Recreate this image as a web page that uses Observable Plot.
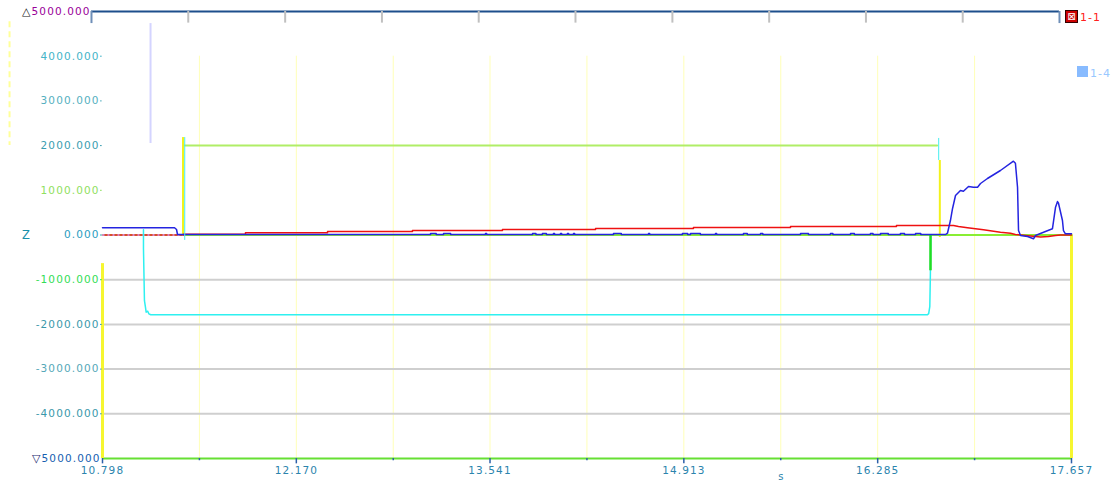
<!DOCTYPE html>
<html><head><meta charset="utf-8">
<script src="https://cdn.jsdelivr.net/npm/d3@7"></script>
<script src="https://cdn.jsdelivr.net/npm/@observablehq/plot@0.6"></script>
<style>
body{margin:0;background:#fff;}
#wrap{position:relative;width:1115px;height:483px;}
#wrap svg{font-family:"DejaVu Sans";letter-spacing:1.1px;}
.leg{position:absolute;font:11px "DejaVu Sans";letter-spacing:1px;line-height:13px;}
</style></head><body><div id="wrap"></div>
<script>
// ---- axes / ticks ----
const xTicks = [10.798, 12.170, 13.541, 14.913, 16.285, 17.657];
const xMinor = [11.484, 12.856, 14.227, 15.599, 16.971];
const yTicks = [5000, 4000, 3000, 2000, 1000, 0, -1000, -2000, -3000, -4000, -5000];
const yLabels = ["5000.000","4000.000","3000.000","2000.000","1000.000","0.000","-1000.000","-2000.000","-3000.000","-4000.000","5000.000"];
const yLabelColors = ["#990099","#44b4c8","#55b0c0","#3a9db0","#8fe060","#2a9cc0","#33dd55","#3a98aa","#55a8b8","#3a98aa","#1560b0"];
const hGrid = [-1000, -2000, -3000, -4000];
const topTicks = [10.720, 11.405, 12.091, 12.776, 13.461, 14.146, 14.832, 15.517, 16.202, 16.887, 17.572];

// ---- series: blue (1-1) ----
const blueStartT = [10.798, 11.308, 11.322, 11.329, 11.371];
const blueStartV = [161, 161, 123, 11, 10];
const blipT0 = [13.120, 13.212, 13.509, 13.842, 13.912, 13.990, 14.040, 14.089, 14.132, 14.415, 14.663, 14.903, 14.960, 15.137, 15.335, 15.456, 15.739, 15.951, 16.093, 16.234, 16.305, 16.446, 16.553];
const blipT1 = [13.160, 13.262, 13.517, 13.866, 13.940, 13.998, 14.048, 14.097, 14.140, 14.470, 14.671, 14.940, 15.030, 15.145, 15.362, 15.472, 15.795, 15.968, 16.120, 16.252, 16.360, 16.475, 16.590];
const blipBase = 10, blipTop = 36;
const blueEndT = [16.765, 16.779, 16.800, 16.815, 16.836, 16.871, 16.892, 16.928, 16.963, 16.992, 17.013, 17.062, 17.154, 17.246, 17.260, 17.275, 17.282, 17.296, 17.346, 17.388, 17.402, 17.459, 17.522, 17.544, 17.558, 17.565, 17.593, 17.600, 17.614, 17.657];
const blueEndV = [10, 40, 324, 593, 884, 996, 980, 1085, 1069, 1069, 1152, 1264, 1443, 1651, 1606, 1069, 100, -11, -34, -85, -11, 63, 139, 622, 749, 711, 324, 100, 27, 27];

// ---- series: red ----
const preT = [10.798, 11.371];
const preV = [0, 0];
const redT = [11.371, 11.371, 11.810, 11.810, 12.391, 12.391, 12.992, 12.992, 13.629, 13.629, 14.288, 14.288, 14.981, 14.981, 15.668, 15.668, 16.418, 16.418, 16.822, 16.857, 16.921, 17.034, 17.154, 17.225, 17.260, 17.331, 17.438, 17.494, 17.544, 17.579, 17.657];
const redV = [0, 18, 18, 49, 49, 78, 78, 100, 100, 123, 123, 145, 145, 168, 168, 190, 190, 212, 212, 190, 161, 116, 63, 40, 11, -11, -45, -34, -11, 0, 0];

// ---- series: cyan ----
const cyanT = [11.088, 11.088, 11.095, 11.102, 11.107, 11.118, 11.126, 11.140, 16.636, 16.646, 16.654, 16.658, 16.661];
const cyanV = [120, -300, -1470, -1615, -1727, -1705, -1763, -1785, -1785, -1760, -1600, -900, 0];

// ---- series: pulse (green / yellow) ----
const pulseT = [11.380, 16.706];
const pulseV = [2000, 2000];
const zeroT = [10.798, 17.657];
const zeroV = [0, 0];
const yellowX  = [11.368, 16.725, 10.798, 17.657];
const yellowY1 = [2180, 1667, -640, 0];
const yellowY2 = [-10, -56, -5000, -5000];
const cyanEdgeX  = [11.380, 16.717];
const cyanEdgeY1 = [2180, 2160];
const cyanEdgeY2 = [-120, 1667];
const greenEdgeX = [16.659];
const greenEdgeY1 = [0];
const greenEdgeY2 = [-800];
const artifactX = [11.138, 10.140];
const artifactY1 = [4730, 4770];
const artifactY2 = [2047, 2000];

// build the blue table from the read values
const blue = [];
blueStartT.forEach((t, i) => blue.push({t, v: blueStartV[i]}));
blipT0.forEach((t0, i) => {
  blue.push({t: t0, v: blipBase}, {t: t0, v: blipTop}, {t: blipT1[i], v: blipTop}, {t: blipT1[i], v: blipBase});
});
blue.push({t: 16.700, v: blipBase});
blueEndT.forEach((t, i) => blue.push({t, v: blueEndV[i]}));

const tbl = (T, V) => T.map((t, i) => ({t, v: V[i]}));
const rules = (X, Y1, Y2) => X.map((x, i) => ({x, y1: Y1[i], y2: Y2[i], i}));
const vGrid = [...xTicks.slice(1, -1), ...xMinor];
const yLab = yTicks.map((y, i) => ({y, label: yLabels[i], color: yLabelColors[i]}));
const x0 = xTicks[0];
const yMid = yLab.filter(d => d.y !== 5000 && d.y !== -5000);

const chart = Plot.plot({
  width: 1115, height: 483,
  marginLeft: 102, marginRight: 44, marginTop: 11, marginBottom: 25,
  x: {type: "linear", domain: [10.798, 17.657], axis: null},
  y: {type: "linear", domain: [-5000, 5000], axis: null},
  color: {type: "identity"},
  style: {background: "white", overflow: "visible"},
  marks: [
    // grid
    Plot.ruleX(vGrid, {x: d => d, y1: 4000, y2: -5000, stroke: "#ffffb8", strokeWidth: 1}),
    Plot.ruleY(hGrid, {y: d => d, x1: 10.798, x2: 17.657, stroke: "#cfcfcf", strokeWidth: 2}),
    // artifacts
    Plot.ruleX(rules(artifactX, artifactY1, artifactY2).slice(0, 1), {x: "x", y1: "y1", y2: "y2", stroke: "#d4d4ff", strokeWidth: 2}),
    Plot.ruleX(rules(artifactX, artifactY1, artifactY2).slice(1), {x: "x", y1: "y1", y2: "y2", stroke: "#ffff99", strokeWidth: 2, strokeDasharray: "6,4"}),
    // bottom axis line
    Plot.ruleY([-5000], {y: d => d, x1: 10.798, x2: 17.657, stroke: "#66e033", strokeWidth: 2}),
    // top ruler
    Plot.ruleY([5000], {y: d => d, x1: topTicks[0], x2: topTicks[topTicks.length - 1], stroke: "#1d4f8c", strokeWidth: 2}),
    Plot.ruleX(topTicks.slice(1, -1), {x: d => d, y1: 5000, y2: 4740, stroke: "#c0c0c0", strokeWidth: 2}),
    Plot.ruleX([topTicks[0], topTicks[topTicks.length - 1]], {x: d => d, y1: 5000, y2: 4730, stroke: "#6f8fb8", strokeWidth: 2}),
    // yellow edges
    Plot.ruleX(rules(yellowX, yellowY1, yellowY2).slice(0, 2), {x: "x", y1: "y1", y2: "y2", stroke: "#f2f21c", strokeWidth: 2}),
    Plot.ruleX(rules(yellowX, yellowY1, yellowY2).slice(2), {x: "x", y1: "y1", y2: "y2", stroke: "#f6f630", strokeWidth: 3}),
    // zero green line
    Plot.line(tbl(zeroT, zeroV), {x: "t", y: "v", stroke: "#88ee33", strokeWidth: 2}),
    // pre segment dotted
    Plot.line(tbl(preT, preV), {x: "t", y: "v", stroke: "#ee66ee", strokeWidth: 1.5, strokeDasharray: "2,3"}),
    Plot.line(tbl(preT, preV), {x: "t", y: "v", stroke: "#ee2222", strokeWidth: 1.5, strokeDasharray: "2,3", strokeDashoffset: 2.5}),
    // cyan
    Plot.line(tbl(cyanT, cyanV), {x: "t", y: "v", stroke: "#2ef0f0", strokeWidth: 1.5}),
    Plot.ruleX(rules(greenEdgeX, greenEdgeY1, greenEdgeY2), {x: "x", y1: "y1", y2: "y2", stroke: "#22dd22", strokeWidth: 2.5}),
    // red
    Plot.line(tbl(redT, redV), {x: "t", y: "v", stroke: "#ee1111", strokeWidth: 1.5}),
    // blue
    Plot.line(blue, {x: "t", y: "v", stroke: "#2424e0", strokeWidth: 1.5}),
    // pulse
    Plot.line(tbl(pulseT, pulseV), {x: "t", y: "v", stroke: "#b0ee66", strokeWidth: 2}),
    Plot.ruleX(rules(cyanEdgeX, cyanEdgeY1, cyanEdgeY2), {x: "x", y1: "y1", y2: "y2", stroke: "#44eeee", strokeWidth: 1}),
    // x ticks
    Plot.ruleX(xTicks, {x: d => d, y1: -5000, y2: -5120, stroke: "#2d5fa8", strokeWidth: 1.5}),
    Plot.ruleX(xMinor, {x: d => d, y1: -5000, y2: -5050, stroke: "#2d5fa8", strokeWidth: 1.5}),
    Plot.text(xTicks, {x: d => d, y: () => -5000, text: d => d.toFixed(3), dy: 12, fill: "#2b84ad", fontSize: 10.5, lineAnchor: "middle"}),
    Plot.text(["s"], {x: () => 15.604, y: () => -5000, text: d => d, dy: 18, fill: "#2b84ad", fontSize: 10}),
    // y labels
    Plot.text(yMid, {x: () => x0, y: "y", text: "label", fill: "color", textAnchor: "end", dx: -3, fontSize: 10.5}),
    Plot.text(yLab.filter(d => d.y === 5000), {x: () => x0, y: "y", text: "label", fill: "color", textAnchor: "end", dx: -12, fontSize: 10.5}),
    Plot.text(yLab.filter(d => d.y === -5000), {x: () => x0, y: "y", text: "label", fill: "color", textAnchor: "end", dx: -2, fontSize: 10.5}),
    Plot.text(["△"], {x: () => x0, y: () => 5000, text: d => d, textAnchor: "end", dx: -71, fill: "#111", fontSize: 11}),
    Plot.text(["▽"], {x: () => x0, y: () => -5000, text: d => d, textAnchor: "end", dx: -61, fill: "#1a2a70", fontSize: 11}),
    Plot.text(["Z"], {x: () => x0, y: () => 0, text: d => d, dx: -76, fill: "#1a8faa", fontSize: 11.5}),
    Plot.ruleY(yMid, {y: "y", x1: () => x0, x2: () => x0 + 0.012, dx: -2, stroke: "color", strokeWidth: 1})
  ]
});
const wrap = document.getElementById("wrap");
wrap.appendChild(chart);

// legend (right side)
const legItems = [
  {label: "1-1", color: "#ff2020", box: "#cc0000", top: 10, left: 1065, size: 13, icon: "⊠"},
  {label: "1-4", color: "#99c8ff", box: "#88bbff", top: 66, left: 1077, size: 11, icon: ""}
];
legItems.forEach(l => {
  const b = document.createElement("div");
  b.style.cssText = `position:absolute;left:${l.left}px;top:${l.top}px;width:${l.size}px;height:${l.size}px;background:${l.box};${l.icon ? "border:1px solid #330000;box-sizing:border-box;color:#fff;font:10px 'DejaVu Sans';line-height:11px;text-align:center;" : ""}`;
  b.textContent = l.icon;
  wrap.appendChild(b);
  const t = document.createElement("div");
  t.className = "leg";
  t.style.left = (l.left + l.size + 2) + "px";
  t.style.top = (l.top + 1) + "px";
  t.style.color = l.color;
  t.textContent = l.label;
  wrap.appendChild(t);
});
</script></body></html>
